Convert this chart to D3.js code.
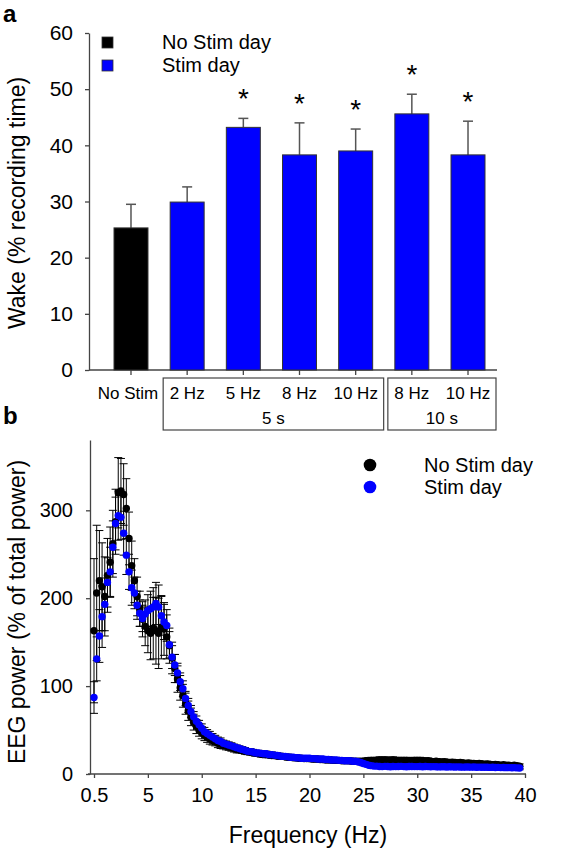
<!DOCTYPE html>
<html><head><meta charset="utf-8">
<script src="https://cdn.jsdelivr.net/npm/d3@7"></script>
<style>
body{margin:0;background:#fff}
svg{display:block;font-family:Arial,"Liberation Sans",sans-serif}
</style>
</head><body>
<svg id="c" width="566" height="853"></svg>
<script>
// ---------- Panel a data ----------
const categories = ["NoStim","2Hz-5s","5Hz-5s","8Hz-5s","10Hz-5s","8Hz-10s","10Hz-10s"];
const categoryLabels = ["No Stim","2 Hz","5 Hz","8 Hz","10 Hz","8 Hz","10 Hz"];
const wakeMean = [25.3, 29.9, 43.2, 38.3, 39.0, 45.6, 38.3];
const wakeSem  = [4.2, 2.7, 1.6, 5.7, 3.9, 3.5, 6.0];
const significant = [false, false, true, true, true, true, true];
const barSeries = ["No Stim day","Stim day","Stim day","Stim day","Stim day","Stim day","Stim day"];
const wakeTicks = [0, 10, 20, 30, 40, 50, 60];
const groupLabels = ["5 s", "10 s"];
const groupFirst = ["2Hz-5s", "8Hz-10s"];
const groupLast = ["10Hz-5s", "10Hz-10s"];
const seriesNames = ["No Stim day", "Stim day"];
const seriesColors = ["#000000", "#0000ff"];

// ---------- Panel b data (0.25-Hz bins, first bin = 0.5 Hz) ----------
const freqTicks = [0, 5, 10, 15, 20, 25, 30, 35, 40];
const freqTickLabels = ["0.5", "5", "10", "15", "20", "25", "30", "35", "40"];
const powerTicks = [0, 100, 200, 300];
const noStimPower = [
163,206,220,213,202,226,241,262,287,320,322,318,302,268,237,220,202,188,176,168,
163,160,166,163,160,167,165,156,146,132,120,108,98,89,80,72,65,59,54,50,
47,44,42,40,38,37,35,34,33,32,31,30,29,28,27.5,27,26,25.5,25,24,
23.5,23,22.5,22,22,21.5,21,21,20.5,20,20,19.5,19,19,18.5,18.5,18,18,17.5,17.5,
17.5,17,17,17,16.5,16.5,16,16,16,15.5,15.5,15.5,15,15,15,15,14.5,14.5,14.5,14.5,
14.5,15,15,15.5,15,15.5,16,15.5,16,15.5,15.5,16,15.5,15,15.5,15,15.5,15,15,15.5,
15,15.5,15,14.5,15,14.5,14,14.5,14,13.5,14,13.5,13,13.5,13,12.5,13,12.5,12,12.5,
12,12,11.5,12,11.5,11,11.5,11,10.5,11,10.5,10,10.5,10,10,9.5,10,9.5,9];
const noStimSem = [
82,77,57,50,45,42,40,38,37,40,37,35,34,30,28,25,22,20,20,22,
25,30,35,38,40,36,30,25,20,18,16,15,14,13,12,11,10,9,8,7,
7,6,6,6,5,5,5,5,4.5,4.5,4,4,4,4,3.5,3.5,3.5,3.5,3.5,3,
3,3,3,3,3,3,3,3,3,3,3,3,3,3,3,3,3,3,3,3,
3,3,3,3,3,3,3,3,3,3,3,3,3,3,3,3,3,3,3,3,
3,3,3.5,3.5,3.5,3.5,3.5,3.5,3.5,3.5,3.5,3.5,3.5,3.5,3.5,3.5,3.5,3.5,3.5,3.5,
3.5,3.5,3.5,3.5,3,3,3,3,3,3,3,3,3,3,3,3,3,3,3,3,
3,3,3,3,3,3,3,3,2.5,2.5,2.5,2.5,2.5,2.5,2.5,2.5,2.5,2.5,2.5];
const stimPower = [
87,131,157,179,193,218,230,258,285,294,292,274,249,230,212,206,192,183,177,182,
186,188,190,194,190,180,173,169,147,133,124,115,105,97,86,78,71,65,60,56,
52,48,46,44,42,40,38,37,35,34,33,32,31,30,29,28,27,26,25.5,25,
24,24,23.5,23,23,22,22,21.5,21,20.5,20,20,19.5,19,19,18.5,18.5,18,18,18,
18,17.5,17.5,17,17,17,16.5,16.5,16,16,16,15.5,15.5,15,15,15,14.5,14.5,14,13,
12,11,10,9.5,9,9,8.6,8.4,8.7,8.5,8.3,8.6,8.4,8.5,8.7,8.4,8.3,8.6,8.5,8.4,
8.4,8.6,8.3,8.5,8.4,8.2,8.4,8.3,8.1,8.3,8.2,8.0,8.2,8.1,7.9,8.1,8.0,7.8,8.0,7.9,
7.8,7.9,7.7,7.8,7.6,7.7,7.6,7.5,7.6,7.4,7.5,7.3,7.4,7.2,7.3,7.1,7.2,7.0,6.8];
const stimSem = [
18,25,30,35,30,28,28,30,30,28,25,25,22,20,20,18,16,15,15,16,
18,20,22,24,25,22,20,18,15,13,12,11,10,9,8,8,7,6,6,5,
5,5,4.5,4.5,4,4,4,4,3.5,3.5,3.5,3.5,3,3,3,3,3,3,3,3,
3,3,3,3,3,3,3,3,3,3,2.5,2.5,2.5,2.5,2.5,2.5,2.5,2.5,2.5,2.5,
2.5,2.5,2.5,2.5,2.5,2.5,2.5,2.5,2.5,2.5,2.5,2.5,2.5,2.5,2.5,2.5,2.5,2.5,2.5,2.5,
2.5,2.5,2,2,2,2,2,2,2,2,2,2,2,2,2,2,2,2,2,2,
2,2,2,2,2,2,2,2,2,2,2,2,2,2,2,2,2,2,2,2,
2,2,2,2,2,2,2,2,2,2,2,2,2,2,2,2,2,2,2];
// plotted position of each 0.25-Hz bin along the frequency axis
const binPos = d3.range(noStimPower.length).map(i => i * 0.25);

const svg = d3.select("#c");
const axisColor = "#444";
const FONT = "Arial, 'Liberation Sans', sans-serif";

// ================= Panel a =================
const xa = d3.scaleBand().domain(categories).range([114, 485]).paddingInner(0.395).paddingOuter(0);
const ya = d3.scaleLinear().domain([0, 60]).range([370, 33]);
const ga = svg.append("g");

ga.append("text").attr("x", 3).attr("y", 22).attr("font-size", 24).attr("font-weight", "bold").text("a");

// y axis
const yAxA = ga.append("g").attr("transform", "translate(89,0)")
  .call(d3.axisLeft(ya).tickValues(wakeTicks).tickSize(4).tickSizeOuter(0).tickPadding(12));
yAxA.select(".domain").attr("stroke", axisColor).attr("stroke-width", 1.3);
yAxA.selectAll(".tick line").attr("stroke", axisColor).attr("stroke-width", 1.3);
yAxA.selectAll(".tick text").attr("font-size", 21).attr("fill", "#000").attr("font-family", FONT);

// x axis
const xAxA = ga.append("g").attr("transform", "translate(0,370)")
  .call(d3.axisBottom(xa).tickSize(5).tickSizeOuter(0).tickFormat((d, i) => categoryLabels[i]).tickPadding(12));
xAxA.select(".domain").remove();
xAxA.selectAll(".tick line").attr("stroke", axisColor).attr("stroke-width", 1.3);
xAxA.selectAll(".tick text").attr("font-size", 17).attr("fill", "#000").attr("font-family", FONT);
xAxA.selectAll(".tick text").filter((d, i) => i === 0).attr("dx", -3);
ga.append("line").attr("x1", 89).attr("x2", 497).attr("y1", 370).attr("y2", 370).attr("stroke", axisColor).attr("stroke-width", 1.3);

// error bars (upper only) and significance stars
categories.forEach((c, i) => {
  const cx = xa(c) + xa.bandwidth() / 2;
  const top = ya(wakeMean[i] + wakeSem[i]);
  ga.append("line").attr("x1", cx).attr("x2", cx).attr("y1", ya(wakeMean[i])).attr("y2", top).attr("stroke", "#555").attr("stroke-width", 1.5);
  ga.append("line").attr("x1", cx - 5).attr("x2", cx + 5).attr("y1", top).attr("y2", top).attr("stroke", "#555").attr("stroke-width", 1.5);
  if (significant[i]) {
    ga.append("text").attr("x", cx).attr("y", top - 10).attr("text-anchor", "middle").attr("font-size", 28).text("*");
  }
});
// bars
ga.selectAll("rect.bar").data(categories).join("rect").attr("class", "bar")
  .attr("x", d => xa(d)).attr("width", xa.bandwidth())
  .attr("y", (d, i) => ya(wakeMean[i])).attr("height", (d, i) => ya(0) - ya(wakeMean[i]))
  .attr("fill", (d, i) => seriesColors[seriesNames.indexOf(barSeries[i])])
  .attr("stroke", "#333").attr("stroke-width", 1);

// group boxes
groupLabels.forEach((g, k) => {
  const x0 = xa(groupFirst[k]) - 7, x1 = xa(groupLast[k]) + xa.bandwidth() + 11;
  ga.append("rect").attr("x", x0).attr("y", 378).attr("width", x1 - x0).attr("height", 52)
    .attr("fill", "none").attr("stroke", axisColor).attr("stroke-width", 1.2);
  ga.append("text").attr("x", (x0 + x1) / 2).attr("y", 424).attr("text-anchor", "middle").attr("font-size", 17).text(g);
});

// legend a
seriesNames.forEach((s, i) => {
  ga.append("rect").attr("x", 102).attr("y", 37 + i * 23).attr("width", 11).attr("height", 11)
    .attr("fill", seriesColors[i]).attr("stroke", "#333").attr("stroke-width", 0.8);
  ga.append("text").attr("x", 162).attr("y", 49 + i * 23).attr("font-size", 20).text(s);
});

// y title a
ga.append("text").attr("transform", "translate(25,203) rotate(-90)").attr("text-anchor", "middle")
  .attr("font-size", 23).text("Wake (% recording time)");

// ================= Panel b =================
const xb = d3.scaleLinear().domain([0, 40]).range([94, 525]);
const yb = d3.scaleLinear().domain([0, 380]).range([774, 440]);
const gb = svg.append("g");

gb.append("text").attr("x", 3).attr("y", 424).attr("font-size", 24).attr("font-weight", "bold").text("b");

const yAxB = gb.append("g").attr("transform", "translate(90,0)")
  .call(d3.axisLeft(yb).tickValues(powerTicks).tickSize(4).tickSizeOuter(0).tickPadding(13));
yAxB.select(".domain").attr("stroke", axisColor).attr("stroke-width", 1.3);
yAxB.selectAll(".tick line").attr("stroke", axisColor).attr("stroke-width", 1.3);
yAxB.selectAll(".tick text").attr("font-size", 20).attr("fill", "#000").attr("font-family", FONT);

const xAxB = gb.append("g").attr("transform", "translate(0,774)")
  .call(d3.axisBottom(xb).tickValues(freqTicks).tickSize(4).tickSizeOuter(0).tickPadding(10)
    .tickFormat((d, i) => freqTickLabels[i]));
xAxB.select(".domain").remove();
xAxB.selectAll(".tick line").attr("stroke", axisColor).attr("stroke-width", 1.3);
xAxB.selectAll(".tick text").attr("font-size", 20).attr("fill", "#000").attr("font-family", FONT);
gb.append("line").attr("x1", 88).attr("x2", 526).attr("y1", 774).attr("y2", 774).attr("stroke", axisColor).attr("stroke-width", 1.3);

function drawSeries(mean, sem, color) {
  const g = gb.append("g");
  mean.forEach((m, i) => {
    const cx = xb(binPos[i]);
    const y1 = yb(m + sem[i]), y0 = yb(Math.max(0, m - sem[i]));
    g.append("line").attr("x1", cx).attr("x2", cx).attr("y1", y0).attr("y2", y1).attr("stroke", "#000").attr("stroke-width", 1);
    g.append("line").attr("x1", cx - 4).attr("x2", cx + 4).attr("y1", y1).attr("y2", y1).attr("stroke", "#000").attr("stroke-width", 1);
    g.append("line").attr("x1", cx - 4).attr("x2", cx + 4).attr("y1", y0).attr("y2", y0).attr("stroke", "#000").attr("stroke-width", 1);
  });
  g.selectAll("circle").data(mean).join("circle")
    .attr("cx", (d, i) => xb(binPos[i])).attr("cy", d => yb(d)).attr("r", 3.7).attr("fill", color);
}
drawSeries(noStimPower, noStimSem, seriesColors[0]);
drawSeries(stimPower, stimSem, seriesColors[1]);

// legend b
seriesNames.forEach((s, i) => {
  gb.append("circle").attr("cx", 370).attr("cy", 465 + i * 22).attr("r", 6.3).attr("fill", seriesColors[i]);
  gb.append("text").attr("x", 424).attr("y", 472 + i * 22).attr("font-size", 20).text(s);
});

gb.append("text").attr("x", 308).attr("y", 843).attr("text-anchor", "middle").attr("font-size", 23).text("Frequency (Hz)");
gb.append("text").attr("transform", "translate(25,612) rotate(-90)").attr("text-anchor", "middle")
  .attr("font-size", 23).text("EEG power (% of total power)");
</script>
</body></html>
